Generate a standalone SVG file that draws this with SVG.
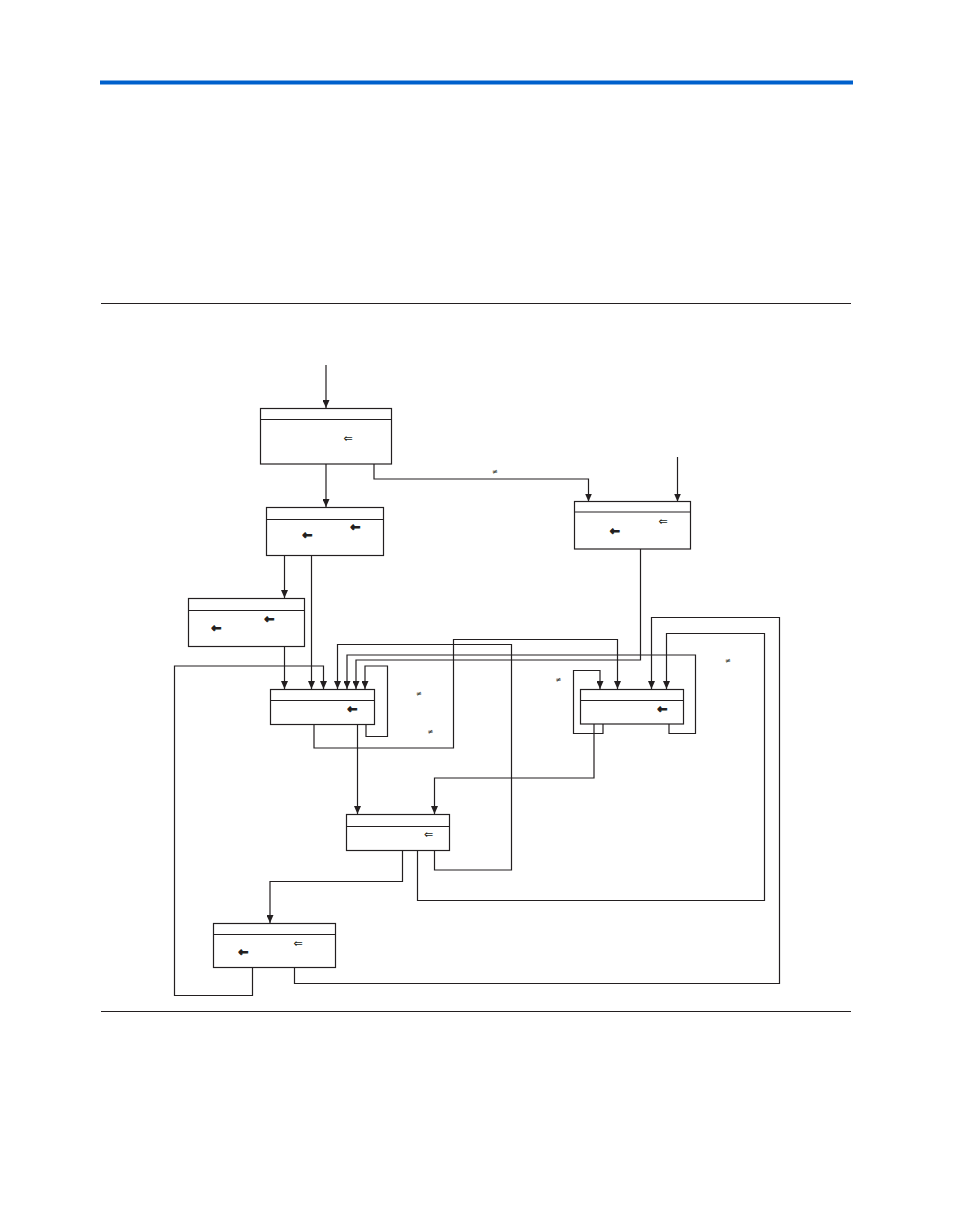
<svg xmlns="http://www.w3.org/2000/svg" width="954" height="1227" viewBox="0 0 954 1227">
<style>
.box{fill:#fff;stroke:#231f20;stroke-width:1.2}
.div{stroke:#231f20;stroke-width:1.2}
.con{fill:none;stroke:#231f20;stroke-width:1.2;marker-end:url(#ah)}
.sym{font-family:"DejaVu Sans",sans-serif;fill:#231f20;text-anchor:middle;dominant-baseline:central}
.la{font-size:12px;font-weight:bold;stroke:#231f20;stroke-width:0.9}
.da{font-size:11px}
.ne{font-size:7px}
.rule{stroke:#231f20;stroke-width:1}
</style>
<defs>
<marker id="ah" markerUnits="userSpaceOnUse" markerWidth="9" markerHeight="7" refX="8" refY="3.5" orient="auto">
<path d="M0,0 L8,3.5 L0,7 z" fill="#231f20"/>
</marker>
</defs>
<rect x="100" y="80.5" width="753" height="4" fill="#0060cc"/>
<line class="rule" x1="101" y1="303.5" x2="851" y2="303.5"/>
<line class="rule" x1="101" y1="1011.5" x2="851" y2="1011.5"/>

<g id="connectors">
<path class="con" d="M326,365 V408"/>
<path class="con" d="M326,464 V507"/>
<path class="con" d="M374,464 V479 H588.5 V501.5"/>
<path class="con" d="M677.5,457 V501.5"/>
<path class="con" d="M284.5,555 V598"/>
<path class="con" d="M311.5,555 V689"/>
<path class="con" d="M284.5,647 V689"/>
<path class="con" d="M252.5,967 V995.5 H174.5 V666 H323.5 V689"/>
<path class="con" d="M434.5,850 V870 H511.5 V644.5 H337.5 V689"/>
<path class="con" d="M669,724 V733.5 H695.5 V655 H347 V689"/>
<path class="con" d="M640.5,549 V660 H356 V689"/>
<path class="con" d="M366,724 V736.5 H387.5 V666 H365 V689"/>
<path class="con" d="M314,724 V748 H453.5 V639.5 H617.5 V689"/>
<path class="con" d="M357.5,724 V814"/>
<path class="con" d="M603,724 V733.5 H573.5 V670.5 H600 V689"/>
<path class="con" d="M294.5,967 V983.5 H779.5 V617.5 H651.5 V689"/>
<path class="con" d="M417.5,850 V900.5 H764.5 V633.5 H666.5 V689"/>
<path class="con" d="M594,724 V778 H434.5 V814"/>
<path class="con" d="M402.5,850 V881.5 H270 V923"/>
<text class="sym ne" x="495" y="471.5">≠</text>
<text class="sym ne" x="419" y="693.5">≠</text>
<text class="sym ne" x="430.5" y="731.5">≠</text>
<text class="sym ne" x="558.5" y="680">≠</text>
<text class="sym ne" x="728" y="661">≠</text>
</g>

<g id="node1">
<rect class="box" x="260.5" y="408.5" width="131" height="55.5"/>
<line class="div" x1="260.5" y1="419.5" x2="391.5" y2="419.5"/>
<text class="sym da" x="348" y="438">⇐</text>
</g>
<g id="node2">
<rect class="box" x="574.5" y="501.5" width="116" height="47.5"/>
<line class="div" x1="574.5" y1="512" x2="690.5" y2="512"/>
<text class="sym da" x="663" y="521">⇐</text>
<text class="sym la" x="615" y="531">←</text>
</g>
<g id="node3">
<rect class="box" x="266.5" y="507.5" width="117" height="48"/>
<line class="div" x1="266.5" y1="519.5" x2="383.5" y2="519.5"/>
<text class="sym la" x="355.5" y="527">←</text>
<text class="sym la" x="307.5" y="535">←</text>
</g>
<g id="node4">
<rect class="box" x="188.5" y="598.5" width="116" height="48"/>
<line class="div" x1="188.5" y1="610.5" x2="304.5" y2="610.5"/>
<text class="sym la" x="269.5" y="619">←</text>
<text class="sym la" x="216.5" y="627.5">←</text>
</g>
<g id="node5">
<rect class="box" x="270.5" y="689.5" width="104" height="35"/>
<line class="div" x1="270.5" y1="700.5" x2="374.5" y2="700.5"/>
<text class="sym la" x="352.5" y="709">←</text>
</g>
<g id="node6">
<rect class="box" x="580.5" y="689.5" width="103" height="34.5"/>
<line class="div" x1="580.5" y1="700.5" x2="683.5" y2="700.5"/>
<text class="sym la" x="662.5" y="709">←</text>
</g>
<g id="node7">
<rect class="box" x="346.5" y="814.5" width="103" height="36"/>
<line class="div" x1="346.5" y1="826.5" x2="449.5" y2="826.5"/>
<text class="sym da" x="428.5" y="834.5">⇐</text>
</g>
<g id="node8">
<rect class="box" x="213.5" y="923.5" width="122" height="44"/>
<line class="div" x1="213.5" y1="934.5" x2="335.5" y2="934.5"/>
<text class="sym da" x="298" y="943">⇐</text>
<text class="sym la" x="243.5" y="952">←</text>
</g>
</svg>
